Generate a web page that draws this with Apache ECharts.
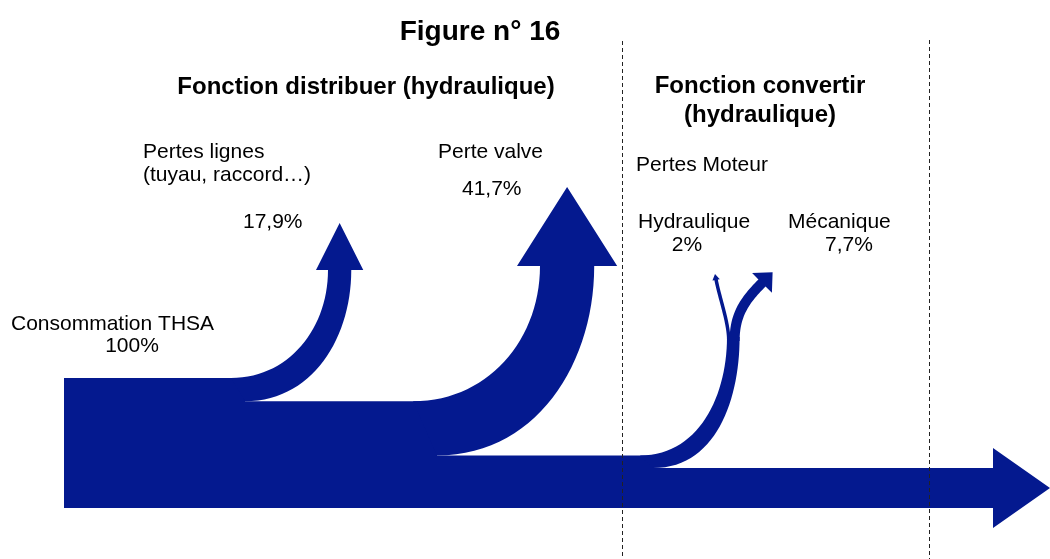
<!DOCTYPE html>
<html>
<head>
<meta charset="utf-8">
<title>Figure n° 16</title>
<script src="https://cdn.jsdelivr.net/npm/echarts@6/dist/echarts.min.js"></script>
<style>
  html, body { margin: 0; padding: 0; background: #fff; }
  #main { width: 1050px; height: 559px; }
</style>
</head>
<body>
<div id="main"></div>
<script>
// valeurs (% de la consommation THSA)
const title = 'Figure n° 16'
const sectionNames = ['Fonction distribuer (hydraulique)', 'Fonction convertir\n(hydraulique)']
const inputName = 'Consommation THSA'
const inputValue = 100
const lossNames = ['Pertes lignes\n(tuyau, raccord…)', 'Perte valve', 'Hydraulique', 'Mécanique']
const lossValues = [17.9, 41.7, 2, 7.7]
const moteurName = 'Pertes Moteur'

// niveaux du flux principal apres chaque perte
const levels = [inputValue]
lossValues.forEach((v, i) => levels.push(levels[i] - v))
const outputValue = levels[levels.length - 1]

const pct = v => String(Math.round(v * 10) / 10).replace('.', ',') + '%'

// mise en page (x en px le long de la figure, y en % du flux)
const COLOR = '#04198f'
const FONT = '"Liberation Sans", Arial, sans-serif'
const trunkX = 64
const stepX = [245, 437, 653]
const outArrow = { headX: 993, tipX: 1050, wing: 20 }
const branchLayout = [
  { upperX: 231, lowerX: 245, topX: 328, topY: 183.1, wing: 12, head: 47 },
  { upperX: 413, lowerX: 437, topX: 540, topY: 186.2, wing: 23, head: 79 }
]
const moteurLayout = {
  upperX: 640, lowerX: 653, splitX: 727, splitY: 131.5,
  hydTipX: 715, hydTipY: 180,
  mecX: 762, mecY: 173.1, mecWing: 9, mecHead: 15
}

function bez(p0, c1, c2, p3, n) {
  const pts = []
  for (let i = 0; i <= n; i++) {
    const t = i / n
    const u = 1 - t
    pts.push([
      u * u * u * p0[0] + 3 * u * u * t * c1[0] + 3 * u * t * t * c2[0] + t * t * t * p3[0],
      u * u * u * p0[1] + 3 * u * u * t * c1[1] + 3 * u * t * t * c2[1] + t * t * t * p3[1]
    ])
  }
  return pts
}

// courbe qui part de p0 dans la direction d0 et arrive en p3 dans la direction d3
function turn(p0, d0, p3, d3, k) {
  const L = Math.hypot(p3[0] - p0[0], p3[1] - p0[1]) * k
  return bez(p0, [p0[0] + d0[0] * L, p0[1] + d0[1] * L], [p3[0] - d3[0] * L, p3[1] - d3[1] * L], p3, 30)
}

const RIGHT = [1, 0]
const UP = [0, -1]

function poly(points) {
  return { type: 'polygon', shape: { points }, style: { fill: COLOR } }
}

function renderItem(params, api) {
  const kind = api.value(0)
  const px = (x, y) => api.coord([x, y])
  const thick = v => api.size([0, v])[1]

  if (kind === 0) {
    // flux principal + fleche de sortie
    const out = api.value(2)
    const pts = [
      px(trunkX, 0), px(trunkX, levels[0]),
      px(stepX[0], levels[0]), px(stepX[0], levels[1]),
      px(stepX[1], levels[1]), px(stepX[1], levels[2]),
      px(stepX[2], levels[2]), px(stepX[2], out),
      px(outArrow.headX, out)
    ]
    const top = px(outArrow.headX, out)[1]
    const bot = px(outArrow.headX, 0)[1]
    const hx = pts[8][0]
    pts.push([hx, top - outArrow.wing])
    pts.push([px(outArrow.tipX, 0)[0], (top + bot) / 2])
    pts.push([hx, bot + outArrow.wing])
    pts.push(px(outArrow.headX, 0))
    return poly(pts)
  }

  const level = api.value(1)
  const v = api.value(2)

  if (kind === 1 || kind === 2) {
    const L = branchLayout[kind - 1]
    const h = thick(v)
    const u0 = px(L.upperX, level)
    const l0 = px(L.lowerX, level - v)
    const ty = px(0, L.topY)[1]
    const u1 = [px(L.topX, 0)[0], ty]
    const l1 = [u1[0] + h, ty]
    const upper = turn(u0, RIGHT, u1, UP, 0.4)
    const lower = turn(l0, RIGHT, l1, UP, 0.4)
    const head = [[u1[0] - L.wing, ty], [u1[0] + h / 2, ty - L.head], [l1[0] + L.wing, ty]]
    return poly(upper.concat(head, lower.reverse()))
  }

  // pertes moteur : tronc commun puis hydraulique / mecanique
  const vMec = api.value(3)
  const M = moteurLayout
  const h = thick(v + vMec)
  const hHyd = thick(v)
  const hMec = thick(vMec)
  const u0 = px(M.upperX, level)
  const l0 = px(M.lowerX, level - v - vMec)
  const sy = px(0, M.splitY)[1]
  const sl = [px(M.splitX, 0)[0], sy]
  const sr = [sl[0] + h, sy]
  const stem = turn(u0, RIGHT, sl, UP, 0.4).concat(turn(l0, RIGHT, sr, UP, 0.4).reverse())

  // hydraulique (trait fin)
  const w = Math.max(hHyd, 3.5)
  const tip = px(M.hydTipX, M.hydTipY)
  const dx = tip[0] - sl[0]
  const dy = tip[1] - sl[1]
  const dl = Math.hypot(dx, dy)
  const dh = [dx / dl, dy / dl]
  const nh = [-dh[1], dh[0]]
  const hb = [tip[0] - dh[0] * 6, tip[1] - dh[1] * 6]
  const hydL = turn([sl[0], sy + 4], UP, [hb[0] - nh[0] * w / 2, hb[1] - nh[1] * w / 2], dh, 0.3)
  const hydR = turn([sl[0] + w, sy + 4], UP, [hb[0] + nh[0] * w / 2, hb[1] + nh[1] * w / 2], dh, 0.3)
  const hydHead = [
    [hb[0] - nh[0] * (w / 2 + 2), hb[1] - nh[1] * (w / 2 + 2)],
    tip,
    [hb[0] + nh[0] * (w / 2 + 2), hb[1] + nh[1] * (w / 2 + 2)]
  ]
  const hyd = hydL.concat(hydHead, hydR.reverse())

  // mecanique (fleche vers le haut a droite)
  const e = px(M.mecX, M.mecY)
  const d = [Math.SQRT1_2, -Math.SQRT1_2]
  const n = [-Math.SQRT1_2, -Math.SQRT1_2]
  const mecL = turn([sl[0] + hHyd, sy + 4], UP, [e[0] + n[0] * hMec / 2, e[1] + n[1] * hMec / 2], d, 0.4)
  const mecR = turn([sr[0], sy + 4], UP, [e[0] - n[0] * hMec / 2, e[1] - n[1] * hMec / 2], d, 0.4)
  const r = hMec / 2 + M.mecWing
  const mecHead = [
    [e[0] + n[0] * r, e[1] + n[1] * r],
    [e[0] + d[0] * M.mecHead, e[1] + d[1] * M.mecHead],
    [e[0] - n[0] * r, e[1] - n[1] * r]
  ]
  const mec = mecL.concat(mecHead, mecR.reverse())

  return {
    type: 'group',
    children: [poly(stem), poly(hyd), poly(mec)]
  }
}

// [type, niveau avant, perte, perte 2]
const flowData = [
  [0, inputValue, outputValue, 0],
  [1, levels[0], lossValues[0], 0],
  [2, levels[1], lossValues[1], 0],
  [3, levels[2], lossValues[2], lossValues[3]]
]

function label(text, x, y, opts) {
  opts = opts || {}
  return {
    type: 'text',
    x: x,
    y: y,
    z: 20,
    style: {
      text: text,
      font: (opts.bold ? 'bold ' : '') + (opts.size || 21) + 'px ' + FONT,
      fill: '#000',
      align: opts.align || 'left',
      verticalAlign: 'middle',
      lineHeight: opts.lh
    }
  }
}

function dashed(x, y1) {
  return {
    type: 'line',
    z: 20,
    shape: { x1: x, y1: y1, x2: x, y2: 559 },
    style: { stroke: '#222', lineWidth: 1, lineDash: [4, 3] }
  }
}

const chart = echarts.init(document.getElementById('main'))
chart.setOption({
  animation: false,
  backgroundColor: '#fff',
  grid: { left: 0, right: 0, top: 378, bottom: 51 },
  xAxis: { type: 'value', min: 0, max: 1050, show: false },
  yAxis: { type: 'value', min: 0, max: 100, show: false },
  graphic: [
    dashed(622.5, 41),
    dashed(929.5, 40),
    label(title, 480, 32, { bold: true, size: 28, align: 'center' }),
    label(sectionNames[0], 366, 87, { bold: true, size: 24, align: 'center' }),
    label(sectionNames[1], 760, 100.5, { bold: true, size: 24, align: 'center', lh: 29 }),
    label(lossNames[0], 143, 163.5, { lh: 23 }),
    label(pct(lossValues[0]), 243, 222),
    label(lossNames[1], 438, 152),
    label(pct(lossValues[1]), 462, 189),
    label(moteurName, 636, 165),
    label(lossNames[2], 638, 222),
    label(pct(lossValues[2]), 687, 245, { align: 'center' }),
    label(lossNames[3], 788, 222),
    label(pct(lossValues[3]), 825, 245),
    label(inputName, 11, 324),
    label(pct(inputValue), 132, 346, { align: 'center' })
  ],
  series: [{
    type: 'custom',
    coordinateSystem: 'cartesian2d',
    renderItem: renderItem,
    clip: false,
    silent: true,
    data: flowData
  }]
})
</script>
</body>
</html>
